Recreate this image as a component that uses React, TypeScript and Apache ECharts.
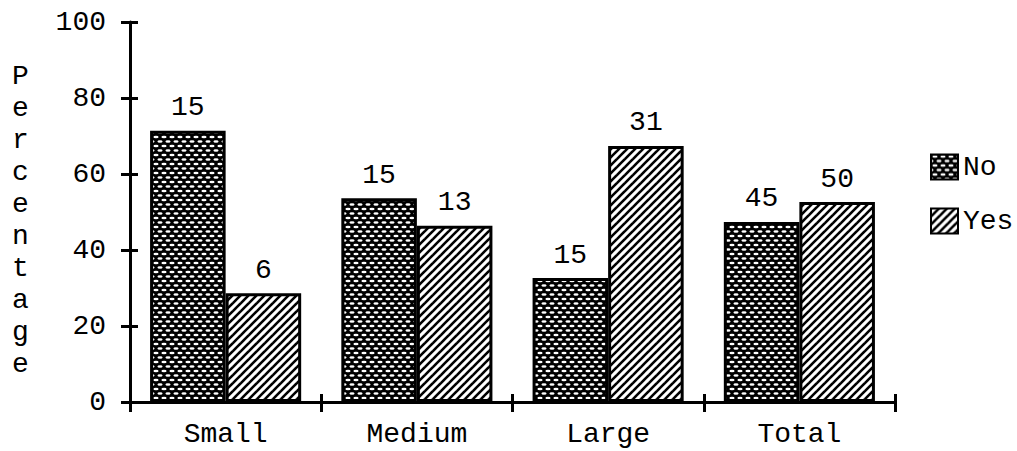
import React, { useEffect, useRef } from "react";
import * as echarts from "echarts";

// Firm size groups and the share of each answer within a group
const categories = ["Small", "Medium", "Large", "Total"];
const noPercent = [71.4, 53.6, 32.6, 47.4];
const yesPercent = [28.6, 46.4, 67.4, 52.6];
// Respondent counts printed above the bars
const noCounts = [15, 15, 15, 45];
const yesCounts = [6, 13, 31, 50];
const yTicks = [0, 20, 40, 60, 80, 100];

const FONT = "'Liberation Mono', 'DejaVu Sans Mono', monospace";
const FONT_SIZE = 28;

const W = 1017;
const H = 451;
const GRID = { left: 130, right: 122, top: 22, bottom: 49 };

// Black ground with staggered white dashes
function dotPattern() {
  const w = 8;
  const h = 9;
  const c = document.createElement("canvas");
  c.width = w;
  c.height = h;
  const ctx = c.getContext("2d")!;
  ctx.fillStyle = "#000";
  ctx.fillRect(0, 0, w, h);
  ctx.fillStyle = "#fff";
  const dots = [
    [4, 2],
    [0, 6.5],
    [8, 6.5],
  ];
  for (const [x, y] of dots) {
    ctx.beginPath();
    ctx.ellipse(x, y, 2.6, 1.3, 0, 0, Math.PI * 2);
    ctx.fill();
  }
  return { image: c, repeat: "repeat", imageWidth: w, imageHeight: h };
}

// White ground with "/" diagonal hatching
function hatchPattern() {
  const s = 8;
  const c = document.createElement("canvas");
  c.width = s;
  c.height = s;
  const ctx = c.getContext("2d")!;
  ctx.fillStyle = "#fff";
  ctx.fillRect(0, 0, s, s);
  ctx.strokeStyle = "#000";
  ctx.lineWidth = 2.6;
  const segs = [
    [-2, s + 2, s + 2, -2],
    [-2, 2, 2, -2],
    [s - 2, s + 2, s + 2, s - 2],
  ];
  for (const [x1, y1, x2, y2] of segs) {
    ctx.beginPath();
    ctx.moveTo(x1, y1);
    ctx.lineTo(x2, y2);
    ctx.stroke();
  }
  return { image: c, repeat: "repeat", imageWidth: s, imageHeight: s };
}

export default function App() {
  const ref = useRef<HTMLDivElement>(null);

  useEffect(() => {
    if (!ref.current) return;
    const chart = echarts.init(ref.current, null, { renderer: "svg" });
    const yMax = yTicks[yTicks.length - 1];
    const yStep = yTicks[1] - yTicks[0];
    const gridW = W - GRID.left - GRID.right;
    const gridH = H - GRID.top - GRID.bottom;

    const labelStyle = {
      show: true,
      position: "top" as const,
      distance: 9,
      color: "#000",
      fontFamily: FONT,
      fontSize: FONT_SIZE,
    };
    const tickLine = { color: "#000", width: 3 };

    chart.setOption({
      animation: false,
      backgroundColor: "#fff",
      textStyle: { fontFamily: FONT, color: "#000" },
      grid: GRID,
      legend: {
        orient: "vertical",
        left: 925,
        top: 148,
        itemWidth: 27,
        itemHeight: 25,
        itemGap: 26,
        icon: "rect",
        textStyle: { fontFamily: FONT, fontSize: FONT_SIZE, color: "#000" },
        data: ["No", "Yes"],
      },
      graphic: [
        {
          type: "text",
          left: 12,
          top: 60,
          style: {
            text: "Percentage".split("").join("\n"),
            font: `${FONT_SIZE}px ${FONT}`,
            lineHeight: 32,
            fill: "#000",
            align: "center",
          },
        },
      ],
      xAxis: [
        {
          type: "category",
          data: categories,
          boundaryGap: true,
          axisLine: { lineStyle: { color: "#000", width: 3 } },
          axisTick: { show: true, length: 10, lineStyle: tickLine },
          axisLabel: { color: "#000", fontFamily: FONT, fontSize: FONT_SIZE, margin: 18 },
        },
        {
          // upper half of the crossing ticks, laid over the bottom axis line
          type: "category",
          data: categories,
          position: "top",
          offset: -gridH,
          boundaryGap: true,
          axisLine: { show: false },
          axisTick: { show: true, length: 8, lineStyle: tickLine },
          axisLabel: { show: false },
        },
      ],
      yAxis: [
        {
          type: "value",
          min: 0,
          max: yMax,
          interval: yStep,
          splitLine: { show: false },
          axisLine: { show: true, lineStyle: { color: "#000", width: 3 } },
          axisTick: { show: true, length: 9, lineStyle: tickLine },
          axisLabel: { color: "#000", fontFamily: FONT, fontSize: FONT_SIZE, margin: 24 },
        },
        {
          // right half of the crossing ticks, laid over the left axis line
          type: "value",
          position: "right",
          offset: -gridW,
          min: 0,
          max: yMax,
          interval: yStep,
          splitLine: { show: false },
          axisLine: { show: false },
          axisTick: { show: true, length: 8, lineStyle: tickLine },
          axisLabel: { show: false },
        },
      ],
      series: [
        {
          name: "No",
          type: "bar",
          data: noPercent,
          barCategoryGap: "21%",
          barGap: "0%",
          itemStyle: { color: dotPattern(), borderColor: "#000", borderWidth: 3 },
          label: { ...labelStyle, formatter: (p: any) => String(noCounts[p.dataIndex]) },
        },
        {
          name: "Yes",
          type: "bar",
          data: yesPercent,
          barCategoryGap: "21%",
          barGap: "0%",
          itemStyle: { color: hatchPattern(), borderColor: "#000", borderWidth: 3 },
          label: { ...labelStyle, formatter: (p: any) => String(yesCounts[p.dataIndex]) },
        },
      ],
    });

    return () => chart.dispose();
  }, []);

  return (
    <div
      ref={ref}
      style={{ position: "fixed", left: 0, top: 0, width: W, height: H, background: "#fff" }}
    />
  );
}
